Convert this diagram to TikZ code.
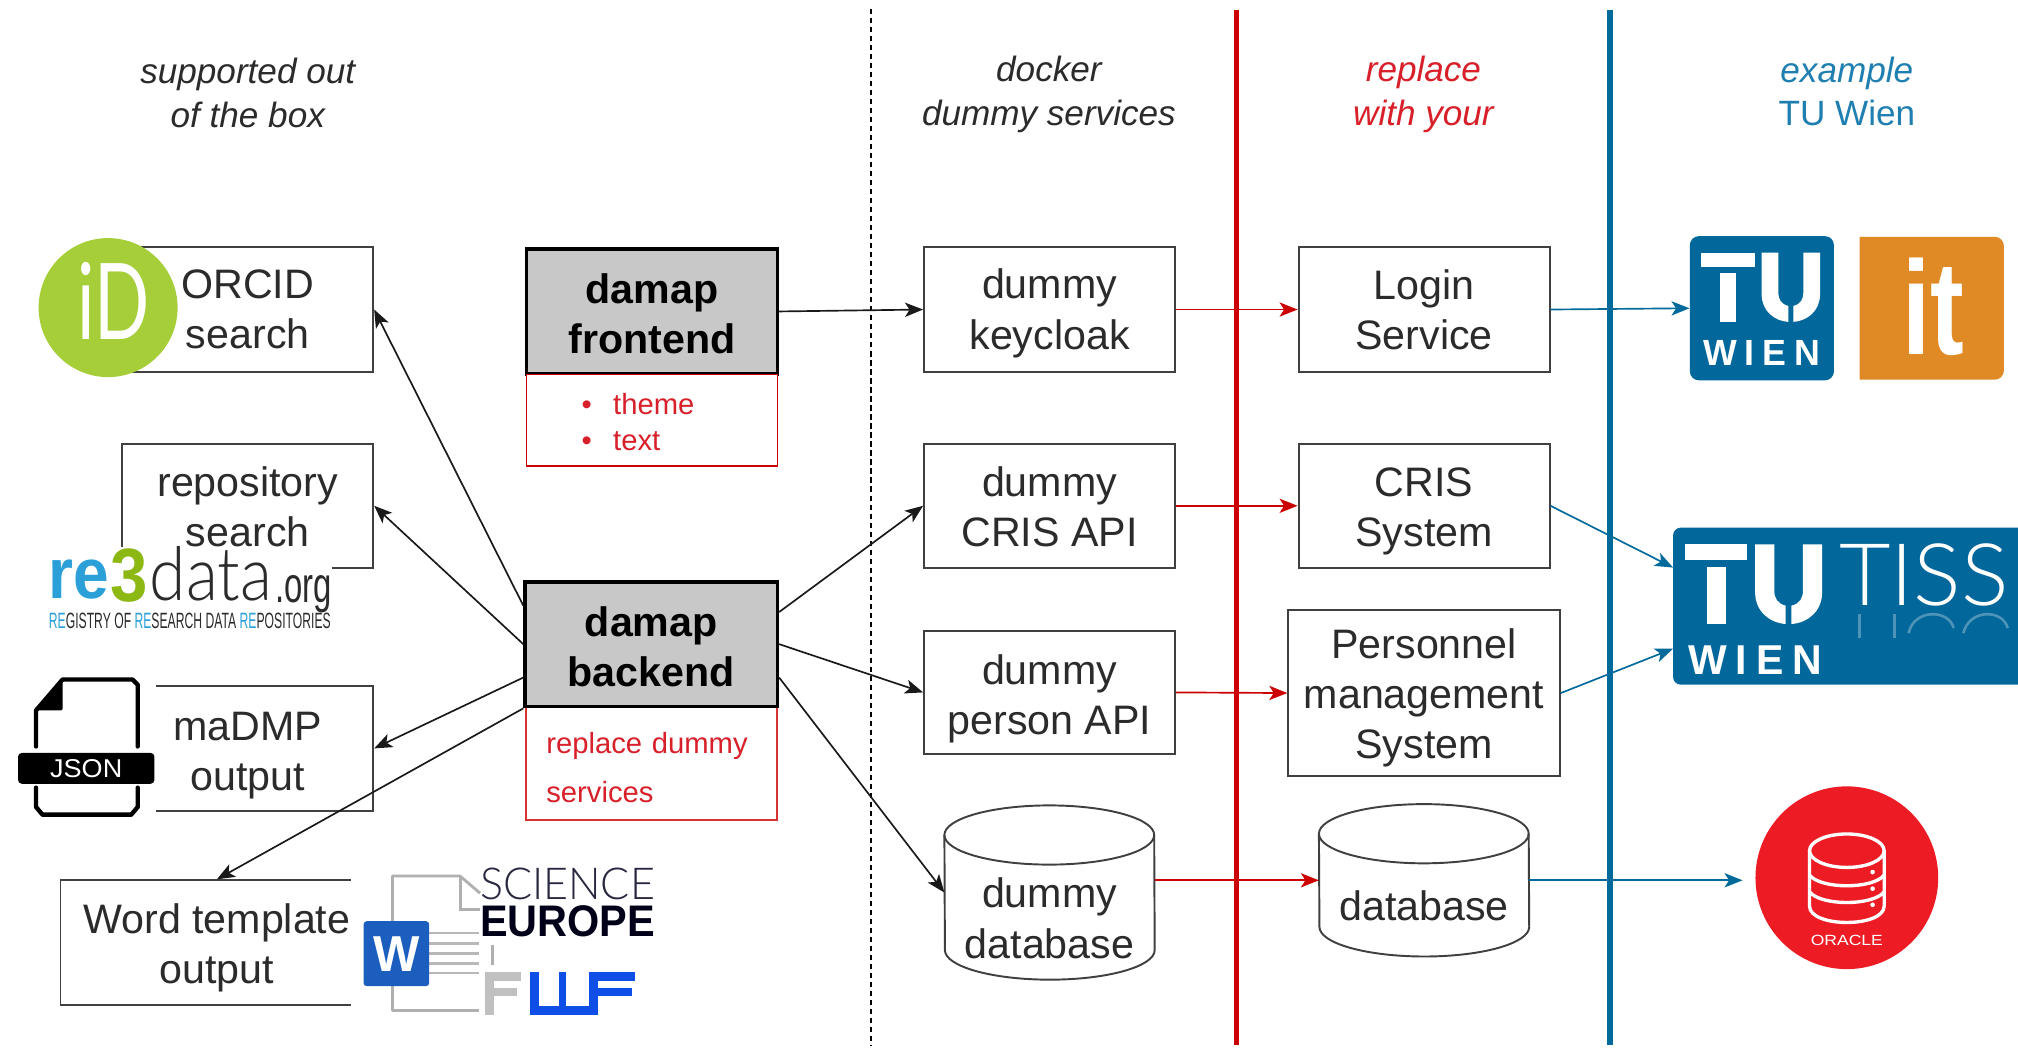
\documentclass[tikz,border=0pt]{standalone}
\usepackage{fontspec}
\setmainfont{Liberation Sans}
\newfontfamily\thinfont{Lato Light}
\newfontfamily\latofont{Lato}
\usetikzlibrary{arrows.meta,calc,shapes.geometric}
\definecolor{txt}{HTML}{2B2B2B}
\definecolor{edge}{HTML}{404040}
\definecolor{gfill}{HTML}{C8C8C8}
\definecolor{rline}{HTML}{CC0000}
\definecolor{rtxt}{HTML}{D8202A}
\definecolor{bline}{HTML}{006A9B}
\definecolor{btxt}{HTML}{1F7FB0}
\definecolor{tublue}{HTML}{02679B}
\definecolor{itorange}{HTML}{E08A25}
\definecolor{orared}{HTML}{ED1C24}
\definecolor{orcidgreen}{HTML}{A6CE39}
\definecolor{reblue}{HTML}{2A9FD8}
\definecolor{regreen}{HTML}{8DB814}
\definecolor{wordblue}{HTML}{1B5EBE}
\definecolor{fwfblue}{HTML}{0F4FE8}
\definecolor{docgray}{HTML}{B0B0B0}
\newcommand{\lift}[1]{\rule{0pt}{#1pt}}
\tikzset{
  plainbox/.style={draw=edge,line width=1.5pt,fill=white,text=txt,align=center,inner sep=0pt,
     font=\fontsize{32}{39}\selectfont},
  corebox/.style={draw=black,line width=2.8pt,fill=gfill,text=black,align=center,inner sep=0pt,
     minimum width=195pt,minimum height=97pt,font=\fontsize{32}{38.5}\selectfont\bfseries},
  notebox/.style={draw=rline,line width=1.3pt,fill=white,text=rtxt,align=left,inner sep=0pt,text width=195pt},
  heading/.style={text=txt,align=center,inner sep=0pt,font=\fontsize{27.3}{34}\selectfont\itshape},
  dbbox/.style={inner sep=0pt},
  dbtext/.style={text=txt,align=center,inner sep=0pt,font=\fontsize{32}{39}\selectfont},
  dbline/.style={draw=edge,line width=1.5pt,fill=white},
  blackarrow/.style={draw=black!90,line width=1.3pt,-{Stealth[length=14pt,width=11pt,inset=3.5pt]}},
  redarrow/.style={draw=rline,line width=1.3pt,-{Stealth[length=14pt,width=11pt,inset=3.5pt]}},
  bluearrow/.style={draw=bline,line width=1.3pt,-{Stealth[length=14pt,width=11pt,inset=3.5pt]}},
  logotext/.style={inner sep=0pt,outer sep=0pt},
}
% cylinder drawn round an empty named node: #1 name, #2 half width, #3 ellipse height
\newcommand{\cylinderround}[3]{%
  \path[dbline] ($(#1.north west)+(0,#3)$) arc[start angle=180,end angle=0,x radius=#2pt,y radius=#3pt]
     -- ($(#1.south east)+(0,-#3)$) arc[start angle=0,end angle=-180,x radius=#2pt,y radius=#3pt] -- cycle;
  \draw[draw=edge,line width=1.5pt] ($(#1.north west)+(0,#3)$) arc[start angle=180,end angle=360,x radius=#2pt,y radius=#3pt];}
% T U mark in its own 0..357 by 0..340 frame
\newcommand{\tumark}[3]{%
 \begin{scope}[shift={(#1,#2)},scale=#3,fill=white,draw=none]
  \fill (0,0) rectangle (162,42);
  \fill (57,60) rectangle (105,208);
  \fill (182,0) -- (182,125) .. controls (182,175) and (220,205) .. (262,208) -- (262,160)
     .. controls (240,155) and (232,140) .. (232,120) -- (232,0) -- cycle;
  \fill (357,0) -- (357,125) .. controls (357,175) and (319,205) .. (277,208) -- (277,160)
     .. controls (299,155) and (307,140) .. (307,120) -- (307,0) -- cycle;
  \node[logotext,transform shape,text=white] at (182,302) {\resizebox{350pt}{75pt}{\bfseries\addfontfeature{LetterSpace=22}WIEN}};
 \end{scope}}
\begin{document}
\begin{tikzpicture}[x=1pt,y=-1pt]
\useasboundingbox (0,0) rectangle (1568,814.3);
\fill[white] (0,0) rectangle (1568,814.3);

% column separators
\coordinate (dashtop) at (677,7);
\coordinate (dashbot) at (677,813);
\coordinate (redtop) at (960.5,8);
\coordinate (redbot) at (960.5,812);
\coordinate (bluetop) at (1251,8);
\coordinate (bluebot) at (1251,812);
\draw[black,line width=1.4pt,dash pattern=on 4pt off 3pt] (dashtop) -- (dashbot);
\draw[rline,line width=4pt] (redtop) -- (redbot);
\draw[bline,line width=4pt] (bluetop) -- (bluebot);

% headings
\node[heading] (h1) at (192.5,72) {supported out\\of the box};
\node[heading] (h2) at (815,73.5) {docker\\dummy services};
\node[heading,text=rtxt] (h3) at (1106,73.5) {replace\\with your};
\node[heading,text=btxt] (h4) at (1435,71) {example\\\normalfont\fontsize{27.3}{34}\selectfont TU Wien};

% left column boxes
\node[plainbox,minimum width=195pt,minimum height=97pt] (orcid) at (192.5,240.5) {ORCID\\search};
\node[plainbox,minimum width=195pt,minimum height=96pt] (repo) at (192.5,393) {\lift{25}repository\\search};
\node[plainbox,minimum width=195pt,minimum height=97pt] (madmp) at (192.5,581.5) {\lift{33}maDMP\hspace{10pt}\\output};
\node[plainbox,minimum width=243pt,minimum height=97pt] (word) at (168.5,732.5) {\lift{31}Word template\\output};

% centre
\node[corebox] (front) at (506.5,242) {\lift{27}damap\\frontend};
\node[notebox,minimum height=71pt,font=\fontsize{22.7}{28}\selectfont] (frontnote) at (506.5,326.5)
  {\lift{19}\hspace*{43pt}\textbullet\hspace{16.5pt}theme\\\hspace*{43pt}\textbullet\hspace{16.5pt}text};
\node[notebox,minimum height=88pt,draw=rline!80,line width=1.7pt,font=\fontsize{22.7}{38}\selectfont] (backnote) at (506,593)
  {\lift{23}\hspace*{16pt}replace dummy\\\hspace*{16pt}services};
\node[corebox,minimum width=196pt] (back) at (506,500.5) {\lift{27}damap\\backend};

% dummy services
\node[plainbox,minimum width=195pt,minimum height=97pt] (keycloak) at (815.5,240.5) {\lift{29}dummy\\keycloak};
\node[plainbox,minimum width=195pt,minimum height=96pt] (crisapi) at (815.5,393) {\lift{25}dummy\\CRIS API};
\node[plainbox,minimum width=195pt,minimum height=96pt] (personapi) at (815.5,538) {\lift{33}dummy\\person API};
\node[dbbox,minimum width=163pt,minimum height=135pt] (dummydb) at (815.5,693.5) {};
\cylinderround{dummydb}{81.5}{23}
\node[dbtext] (dummydbtext) at (815.5,713.5) {dummy\\database};

% replacements
\node[plainbox,minimum width=195pt,minimum height=97pt] (login) at (1106.5,240.5) {Login\\Service};
\node[plainbox,minimum width=195pt,minimum height=96pt] (cris) at (1106.5,393) {\lift{31}CRIS\\System};
\node[plainbox,minimum width=211pt,minimum height=129pt] (personnel) at (1106.5,538.5) {\lift{31}Personnel\\management\\System};
\node[dbbox,minimum width=163pt,minimum height=118pt] (database) at (1106.5,684) {};
\cylinderround{database}{81.5}{23}
\node[dbtext] (databasetext) at (1106.5,704) {database};

% ORCID logo
\node[circle,fill=orcidgreen,minimum size=108pt,inner sep=0pt] (orcidlogo) at (84,239) {};
\node[logotext,text=white] (orcidid) at (88.5,234) {\resizebox{56pt}{60pt}{\latofont iD}};

% re3data logo
\fill[white] (35,425) rectangle (258,492);
\node[logotext,text=reblue] (re) at (61.5,450) {\resizebox{47pt}{30pt}{\bfseries re}};
\node[logotext,text=regreen] (three) at (100,447) {\resizebox{29pt}{41pt}{\bfseries 3}};
\node[logotext,text=txt] (datatxt) at (164,445.5) {\resizebox{95pt}{42pt}{\thinfont data}};
\node[logotext,text=txt] (org) at (236,462) {\resizebox{44pt}{21pt}{.org}};
\node[logotext] (regtag) at (147.5,482.5) {\resizebox{219pt}{12pt}{\color{txt}{\color{reblue}RE}GISTRY OF {\color{reblue}RE}SEARCH DATA {\color{reblue}RE}POSITORIES}};

% JSON logo
\fill[white] (12,524) rectangle (121.5,636);
\draw[black,line width=3.4pt,line cap=round,line join=round] (28,580) -- (28,552) -- (48.6,528) -- (103,528) -- (107,532) -- (107,580);
\draw[black,line width=3.4pt,line cap=round,line join=round] (28,612) -- (28,627) -- (33,633) -- (102,633) -- (107,627) -- (107,612);
\fill[black,rounded corners=1pt] (28,552) -- (48.6,528) -- (48.6,552) -- cycle;
\node[fill=black,rounded corners=3pt,text=white,minimum width=106pt,minimum height=24pt,inner sep=0pt] (jsonbar) at (67,597) {\resizebox{56pt}{14pt}{JSON}};

% Word and funders logo
\fill[white] (273,668) rectangle (520,800);
\draw[docgray,line width=2.2pt,line join=round] (305,716) -- (305,680.7) -- (357.5,680.7) -- (373,694);
\draw[docgray,line width=2.2pt] (357.5,680.7) -- (357.5,706.6) -- (373,706.6);
\draw[docgray,line width=2.2pt,line join=round] (305,766) -- (305,785) -- (372,785);
\foreach \yy in {725,733,741,748.5,756} {\draw[docgray!90,line width=2pt] (333,\yy) -- (372,\yy);}
\draw[docgray,line width=2.2pt] (382.6,734) -- (382.6,750);
\node[fill=wordblue,rounded corners=2.5pt,text=white,minimum width=51pt,minimum height=50.5pt,inner sep=0pt] (wordw) at (308,741) {\resizebox{36pt}{27pt}{\bfseries W}};
\node[logotext,text=txt!90!blue] (science) at (441,687) {\resizebox{136pt}{24.5pt}{\thinfont SCIENCE}};
\node[logotext,text=black!90!blue] (europe) at (441,716) {\resizebox{136pt}{24pt}{\bfseries EUROPE}};
\draw[docgray!80,line width=7pt] (405,758.5) -- (380.5,758.5) -- (380.5,789);
\draw[docgray!80,line width=6pt] (380.5,771) -- (402,771);
\draw[fwfblue,line width=7pt] (415.5,755) -- (415.5,785.5) -- (461,785.5);
\draw[fwfblue,line width=6pt] (437,755) -- (437,785.5);
\draw[fwfblue,line width=7pt] (493.5,758.5) -- (461,758.5) -- (461,789);
\draw[fwfblue,line width=6pt] (461,771) -- (491,771);

% TU logo
\node[fill=tublue,rounded corners=7pt,minimum size=112pt,inner sep=0pt] (tulogo) at (1369,239.5) {};
\tumark{1321.6}{196.2}{0.2593}
% it logo
\fill[itorange] (1445,184) -- (1550,184) arc[start angle=90,end angle=0,radius=7pt] -- (1557,288) arc[start angle=0,end angle=-90,radius=7pt] -- (1445,295) -- cycle;
\node[logotext,text=white] (itlogo) at (1502,238) {\resizebox{48pt}{75pt}{\bfseries it}};

% TISS logo
\fill[tublue,rounded corners=6pt] (1300,410) rectangle (1580,532);
\coordinate (tisslogo) at (1300,470);
\tumark{1309.6}{423}{0.2974}
\node[logotext,text=white] (tiss) at (1495,446.5) {\resizebox{132pt}{48pt}{\thinfont TISS}};
\begin{scope}[draw=white,opacity=.3,line width=2pt]
\draw (1445,477) -- (1445,496);
\draw (1472,477) -- (1472,496);
\draw (1483,492) .. controls (1487,473) and (1514,473) .. (1518,488);
\draw (1525.5,492) .. controls (1530,473) and (1556,473) .. (1560,488);
\end{scope}

% Oracle logo
\node[circle,fill=orared,minimum size=142pt,inner sep=0pt] (oracle) at (1435,682) {};
\begin{scope}[shift={(oracle.center)},draw=white,line width=2.6pt]
\draw (0,-21) ellipse (29pt and 13pt);
\draw (-29,-21) -- (-29,22) .. controls (-29,39) and (29,39) .. (29,22) -- (29,-21);
\draw (-29,-2) .. controls (-20,9) and (20,9) .. (29,-2);
\draw (-29,11) .. controls (-20,22) and (20,22) .. (29,11);
\fill[white] (20,-4.4) circle (1.8pt) (20,8.5) circle (1.8pt) (20,21) circle (1.8pt);
\end{scope}
\node[logotext,text=white] (oraclename) at ($(oracle.center)+(0,48.7)$) {\resizebox{56pt}{8pt}{ORACLE}};

% connectors
\draw[blackarrow] (front.east) -- (keycloak.west);
\draw[blackarrow] ($(back.north west)!0.2!(back.south west)$) -- (orcid.east);
\draw[blackarrow] ($(back.north west)!0.5!(back.south west)$) -- (repo.east);
\draw[blackarrow] ($(back.north west)!0.76!(back.south west)$) -- (madmp.east);
\draw[blackarrow] (back.south west) -- (word.north);
\draw[blackarrow] ($(back.north east)!0.25!(back.south east)$) -- (crisapi.west);
\draw[blackarrow] ($(back.north east)!0.5!(back.south east)$) -- (personapi.west);
\draw[blackarrow] ($(back.north east)!0.76!(back.south east)$) -- (dummydb.west);
\draw[redarrow] (keycloak.east) -- (login.west);
\draw[redarrow] (crisapi.east) -- (cris.west);
\draw[redarrow] (personapi.east) -- (personnel.west);
\draw[redarrow] ([yshift=9.5pt]dummydb.east) -- (database.west);
\draw[bluearrow] (login.east) -- (tulogo.west);
\draw[bluearrow] (cris.east) -- ($(tisslogo)+(0,-29)$);
\draw[bluearrow] (personnel.east) -- ($(tisslogo)+(0,34)$);
\coordinate (oracleport) at (1354,684);
\draw[bluearrow] (database.east) -- (oracleport);
\end{tikzpicture}
\end{document}
